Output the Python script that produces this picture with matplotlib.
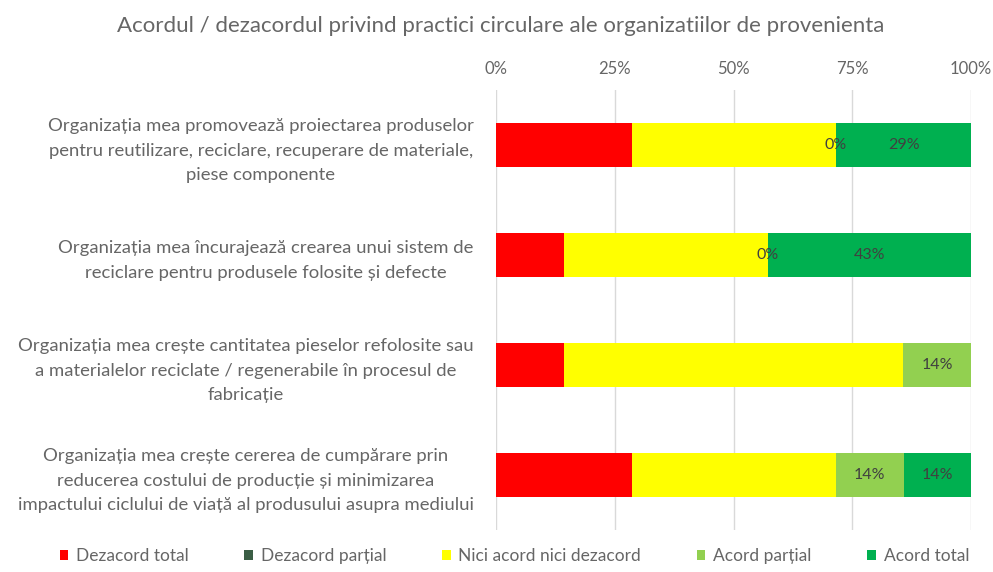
import matplotlib.pyplot as plt
import numpy as np

plt.rcParams['font.family'] = ['Lato', 'DejaVu Sans']

title = "Acordul / dezacordul privind practici circulare ale organizatiilor de provenienta"

categories = [
    "Organizația mea promovează proiectarea produselor\npentru reutilizare, reciclare, recuperare de materiale,\npiese componente",
    "Organizația mea încurajează crearea unui sistem de\nreciclare pentru produsele folosite și defecte",
    "Organizația mea crește cantitatea pieselor refolosite sau\na materialelor reciclate / regenerabile în procesul de\nfabricație",
    "Organizația mea crește cererea de cumpărare prin\nreducerea costului de producție și minimizarea\nimpactului ciclului de viață al produsului asupra mediului",
]

series_names = ["Dezacord total", "Dezacord parțial", "Nici acord nici dezacord",
                "Acord parțial", "Acord total"]

# procente pe categorie
dezacord_total = [28.6, 14.3, 14.3, 28.6]
dezacord_partial = [0.0, 0.0, 0.0, 0.0]
neutru = [42.9, 42.9, 71.4, 42.9]
acord_partial = [0.0, 0.0, 14.3, 14.3]
acord_total = [28.6, 42.9, 0.0, 14.3]

series = [dezacord_total, dezacord_partial, neutru, acord_partial, acord_total]
colors = ["#FF0000", "#3B5E45", "#FFFF00", "#92D050", "#00B050"]
# etichete doar pe segmentele de acord (inclusiv 0% unde apar)
show_labels = [
    [False, False, False, False],
    [False, False, False, False],
    [False, False, False, False],
    [True, True, True, True],
    [True, True, False, True],
]

fig = plt.figure(figsize=(9.93, 5.72), dpi=100)
ax = fig.add_axes([0.4995, 0.0734, 0.4785, 0.7693])

y = np.arange(len(categories))
left = np.zeros(len(categories))
for name, vals, col, shows in zip(series_names, series, colors, show_labels):
    vals = np.array(vals)
    ax.barh(y, vals, left=left, height=0.4, color=col, label=name, zorder=3)
    for i, (v, s) in enumerate(zip(vals, shows)):
        if s:
            ax.text(left[i] + v / 2, y[i], "{:.0f}%".format(v), ha="center", va="center",
                    fontsize=11.5, color="#404040", zorder=4)
    left += vals

ax.set_xlim(0, 100)
ax.set_ylim(len(categories) - 0.5, -0.5)
ax.set_xticks([0, 25, 50, 75, 100])
ax.set_xticklabels(["0%", "25%", "50%", "75%", "100%"])
ax.xaxis.tick_top()
ax.tick_params(axis="x", length=0, pad=9, labelsize=12, labelcolor="#666666")
ax.tick_params(axis="y", length=0, pad=16, labelsize=13.3, labelcolor="#666666")
ax.set_yticks(y)
ax.set_yticklabels(categories, multialignment="center", linespacing=1.65)
ax.grid(axis="x", color="#D9D9D9", lw=1, zorder=0)
for sp in ax.spines.values():
    sp.set_visible(False)

fig.text(0.504, 0.955, title, ha="center", va="center", fontsize=16, color="#666666")

fig.legend(loc="center", bbox_to_anchor=(0.518, 0.028), ncol=5, frameon=False,
           fontsize=12.5, labelcolor="#666666", handlelength=0.5, handleheight=0.5,
           handletextpad=0.45, columnspacing=3.2)

fig.savefig("out.png", dpi=100)
